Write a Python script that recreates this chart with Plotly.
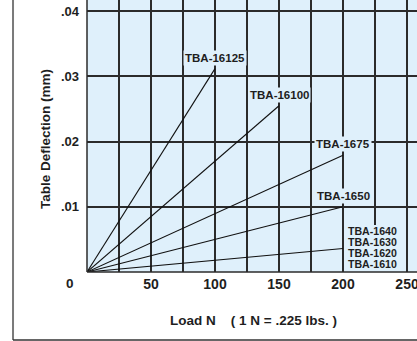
import plotly.graph_objects as go

# Data
series_names = ["TBA-16125", "TBA-16100", "TBA-1675", "TBA-1650", "TBA-1620"]
load_end = [100, 150, 200, 200, 200]
deflection_end = [0.0312, 0.0255, 0.0179, 0.0100, 0.0036]
group_labels = ["TBA-1640", "TBA-1630", "TBA-1620", "TBA-1610"]
x_ticks = [0, 25, 50, 75, 100, 125, 150, 175, 200, 225, 250]
x_tick_text = ["", "", "50", "", "100", "", "150", "", "200", "", "250"]
y_ticks = [0, 0.01, 0.02, 0.03, 0.04]
y_tick_text = ["", ".01", ".02", ".03", ".04"]

BG = "#dff0fb"
GRID = "#2b2b2b"
TXT = "#1e1e1e"
FONT = "Liberation Sans, Arial, sans-serif"
PX = 0.01 / 65.2  # data units per pixel on y

fig = go.Figure()
for name, xe, ye in zip(series_names, load_end, deflection_end):
    fig.add_trace(go.Scatter(x=[0, xe], y=[0, ye], mode="lines",
                             line=dict(color="#111111", width=1.1),
                             name=name, showlegend=False, hoverinfo="skip"))

annotations = []
for name, xe, ye in zip(series_names[:4], load_end[:4], deflection_end[:4]):
    annotations.append(dict(x=xe, y=ye, xref="x", yref="y", text=name,
                            showarrow=False, yanchor="bottom", yshift=3,
                            bgcolor=BG, borderpad=1,
                            font=dict(family=FONT, size=11.5, color=TXT, weight="bold")))
# grouped labels block
for i, lab in enumerate(group_labels):
    annotations.append(dict(x=223.4, y=(41.5 - 11.3 * i) * PX, xref="x", yref="y", text=lab,
                            showarrow=False,
                            font=dict(family=FONT, size=10.6, color=TXT, weight="bold")))
# origin label
annotations.append(dict(x=-0.0515, y=-0.044, xref="paper", yref="paper", text="0",
                        showarrow=False, xanchor="center", yanchor="middle",
                        font=dict(family=FONT, size=13.5, color=TXT, weight="bold")))
# axis titles
annotations.append(dict(x=-0.1242, y=0.489, xref="paper", yref="paper",
                        text="Table Deflection (mm)", textangle=-90, showarrow=False,
                        xanchor="center", yanchor="middle",
                        font=dict(family=FONT, size=13.5, color=TXT, weight="bold")))
annotations.append(dict(x=0.5045, y=-0.18, xref="paper", yref="paper",
                        text="Load N&nbsp;&nbsp;&nbsp;&nbsp;( 1 N = .225 lbs. )", showarrow=False,
                        xanchor="center", yanchor="middle",
                        font=dict(family=FONT, size=13.5, color=TXT, weight="bold")))

fig.update_layout(
    width=417, height=341,
    margin=dict(l=87, r=0, t=0, b=69),
    paper_bgcolor="white", plot_bgcolor=BG,
    annotations=annotations,
    xaxis=dict(range=[0, 257.8], tickvals=x_ticks, ticktext=x_tick_text,
               showgrid=True, gridcolor=GRID, gridwidth=1.5,
               zeroline=False, showline=False, ticks="",
               ticklabelstandoff=2, automargin=False, ticklabeloverflow="allow",
               tickfont=dict(family=FONT, size=14, color=TXT, weight="bold")),
    yaxis=dict(range=[0, 0.04172], tickvals=y_ticks, ticktext=y_tick_text,
               showgrid=True, gridcolor=GRID, gridwidth=1.5,
               zeroline=False, showline=False, ticks="",
               ticklabelstandoff=7, automargin=False, ticklabeloverflow="allow",
               tickfont=dict(family=FONT, size=13, color=TXT, weight="bold")),
    shapes=[
        dict(type="rect", xref="x", yref="y", x0=205.5, x1=241.5,
             y0=0.0, y1=47 * PX, fillcolor=BG, line=dict(width=0), layer="above"),
        dict(type="line", xref="paper", yref="paper", x0=0, x1=0, y0=0, y1=1,
             line=dict(color=GRID, width=1.5), layer="above"),
        dict(type="line", xref="paper", yref="paper", x0=0, x1=1, y0=0, y1=0,
             line=dict(color=GRID, width=1.5), layer="above"),
        dict(type="line", xref="paper", yref="paper", x0=-0.2242, x1=-0.2242,
             y0=-0.25, y1=1.05, line=dict(color="#7a7a7a", width=2)),
        dict(type="line", xref="paper", yref="paper", x0=-0.2242, x1=1.05,
             y0=-0.25, y1=-0.25, line=dict(color="#333333", width=1.5)),
    ],
)

fig.write_html("out.html", config={"displayModeBar": False},
               post_script="document.body.style.margin='0';document.body.style.overflow='hidden';")
